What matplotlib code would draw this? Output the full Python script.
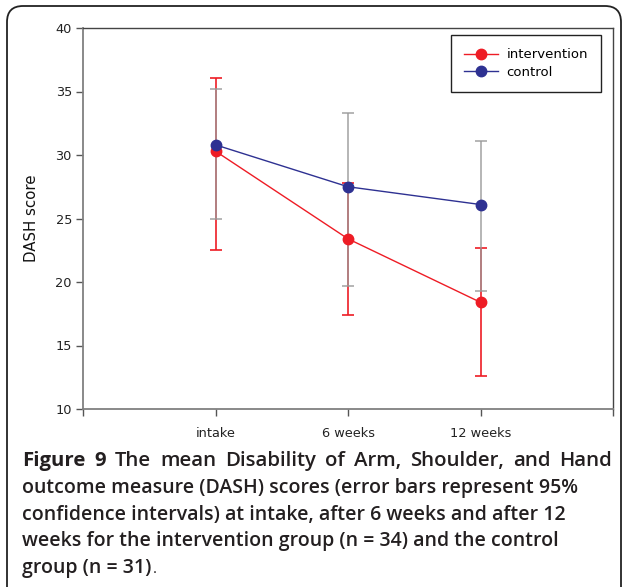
import matplotlib
matplotlib.use("Agg")
import matplotlib.pyplot as plt
from matplotlib.patches import FancyBboxPatch

categories = ["intake", "6 weeks", "12 weeks"]
intervention_mean = [30.3, 23.4, 18.4]
intervention_lo = [22.5, 17.4, 12.6]
intervention_hi = [36.1, 27.8, 22.7]
control_mean = [30.8, 27.5, 26.1]
control_lo = [25.0, 19.7, 19.3]
control_hi = [35.2, 33.3, 31.1]
y_ticks = [10, 15, 20, 25, 30, 35, 40]

caption_bold = "Figure 9"
caption_lines = [
    "The mean Disability of Arm, Shoulder, and Hand",
    "outcome measure (DASH) scores (error bars represent 95%",
    "confidence intervals) at intake, after 6 weeks and after 12",
    "weeks for the intervention group (n = 34) and the control",
    "group (n = 31)",
]

W, H = 624, 587
fig = plt.figure(figsize=(W / 100, H / 100), dpi=100)

# rounded border (in inches)
box = FancyBboxPatch((7 / 100, -0.3), (621 - 7) / 100, (H - 6) / 100 + 0.3,
                     boxstyle="round,pad=0,rounding_size=0.16",
                     transform=fig.dpi_scale_trans, fill=False,
                     edgecolor="#222222", linewidth=1.3)
fig.patches.append(box)

ax = fig.add_axes([83 / W, 1 - 409 / H, (613 - 83) / W, (409 - 28) / H])
x = list(range(1, len(categories) + 1))

red = "#ee1c25"
blue = "#2e3192"
grey = "#9a9a9a"

ierr = [[m - l for m, l in zip(intervention_mean, intervention_lo)],
        [h - m for m, h in zip(intervention_mean, intervention_hi)]]
cerr = [[m - l for m, l in zip(control_mean, control_lo)],
        [h - m for m, h in zip(control_mean, control_hi)]]

ax.errorbar(x, intervention_mean, yerr=ierr, fmt="none", ecolor=red,
            elinewidth=1.2, capsize=4.5, capthick=1.2, zorder=2)
ax.errorbar(x, control_mean, yerr=cerr, fmt="none", ecolor=grey,
            elinewidth=1.2, capsize=4.5, capthick=1.2, alpha=0.85, zorder=3)
ax.plot(x, intervention_mean, "-o", color=red, lw=1.0, ms=7.5,
        label="intervention", zorder=4)
ax.plot(x, control_mean, "-o", color=blue, lw=1.0, ms=7.5,
        label="control", zorder=5)

ax.set_xlim(0, len(categories) + 1)
ax.set_ylim(10, 40)
ax.set_yticks(y_ticks)
ax.set_yticklabels([str(t) for t in y_ticks], fontsize=9.3,
                   family="DejaVu Sans", color="#222222")
ax.set_xticks(list(range(0, len(categories) + 2)))
ax.set_xticklabels([""] + categories + [""], fontsize=9.3,
                   family="DejaVu Sans", color="#222222")
ax.tick_params(axis="y", direction="out", length=5, width=1, color="#555555", pad=3)
ax.tick_params(axis="x", direction="out", length=5, width=1, color="#555555", pad=8)
ax.set_ylabel("DASH score", fontsize=10.8, family="DejaVu Sans",
              color="#111111", labelpad=12)

for s in ["left", "bottom"]:
    ax.spines[s].set_color("#808080")
    ax.spines[s].set_linewidth(1.3)
for s in ["top", "right"]:
    ax.spines[s].set_color("#444444")
    ax.spines[s].set_linewidth(1.0)

leg = ax.legend(loc="upper right", bbox_to_anchor=(601 / W, 1 - 35 / H),
                bbox_transform=fig.transFigure, fancybox=False, framealpha=1,
                edgecolor="#222222", prop={"family": "DejaVu Sans", "size": 9.5},
                handlelength=2.6, handletextpad=0.6, borderpad=1.0,
                labelspacing=0.36, borderaxespad=0)
leg.get_frame().set_linewidth(1.0)

# caption
fam = "Open Sans"
col = "#231f20"
x0 = 22
baselines = [466, 493, 520, 546, 573]
targets = [573, 561, 563]  # right ends of lines 2-4 (pixels)
renderer = fig.canvas.get_renderer()


def text_width(s, size, weight):
    tmp = fig.text(0, 0, s, fontsize=size, family=fam, weight=weight)
    w = tmp.get_window_extent(renderer=renderer).width
    tmp.remove()
    return w


probe_fs = 12.0
ws = [text_width(caption_lines[i], probe_fs, 600) for i in (1, 2, 3)]
fs = probe_fs * sum(t - x0 for t in targets) / sum(ws)

# line 1: words spread between x0 and 612
fs1 = fs * 1.04
words1 = [(w, "bold") for w in caption_bold.split()] + \
         [(w, 600) for w in caption_lines[0].split()]
wlist = [text_width(w, fs1, wt) for w, wt in words1]
gap = (612 - x0 - sum(wlist)) / (len(words1) - 1)
cx = x0
for (w, wt), wd in zip(words1, wlist):
    fig.text(cx / W, 1 - baselines[0] / H, w, fontsize=fs1, family=fam,
             weight=wt, color=col, va="baseline")
    cx += wd + gap

last = None
for i in range(1, len(caption_lines)):
    last = fig.text(x0 / W, 1 - baselines[i] / H, caption_lines[i], fontsize=fs,
                    family=fam, weight=600, color=col, va="baseline")
bb2 = last.get_window_extent(renderer=renderer)
fig.text((bb2.x1 + 1) / W, 1 - baselines[-1] / H, ".", fontsize=fs * 0.75,
         family=fam, color=col, va="baseline")

fig.savefig("out.png", dpi=100)
